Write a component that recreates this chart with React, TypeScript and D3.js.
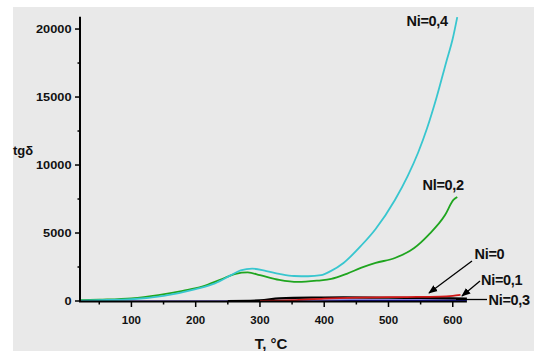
import React from "react";
import * as d3 from "d3";

const xTicks = [100, 200, 300, 400, 500, 600];
const xMinor = [50, 150, 250, 350, 450, 550];
const yTicks = [0, 5000, 10000, 15000, 20000];
const yMinor = [2500, 7500, 12500, 17500];

const tNi04 = [20, 50, 100, 150, 200, 230, 255, 270, 288, 310, 330, 353, 375, 395, 410, 430, 458, 480, 510, 530, 546, 560, 575, 590, 600, 607];
const vNi04 = [30, 60, 130, 380, 880, 1300, 1900, 2250, 2380, 2200, 2000, 1840, 1820, 1900, 2200, 2800, 4100, 5300, 7430, 9200, 10900, 12700, 15000, 17600, 19300, 20880];

const tNi02 = [20, 50, 100, 142, 180, 210, 240, 262, 281, 300, 330, 359, 390, 411, 435, 458, 480, 510, 540, 562, 588, 601, 607];
const vNi02 = [60, 100, 200, 440, 750, 1050, 1600, 2000, 2100, 1900, 1550, 1400, 1500, 1620, 2000, 2450, 2800, 3160, 3900, 4850, 6320, 7430, 7650];

const tNi0 = [300, 350, 400, 450, 500, 550, 580, 600, 612];
const vNi0 = [0, 60, 180, 250, 280, 300, 320, 380, 450];

const tNi01 = [250, 300, 330, 380, 430, 500, 550, 600, 622];
const vNi01 = [0, 40, 200, 250, 260, 240, 220, 200, 180];

const tNi03 = [20, 100, 200, 300, 340, 400, 500, 600, 622];
const vNi03 = [10, 10, 10, 15, 40, 50, 50, 60, 60];

const W = 534;
const H = 351;

export default function App() {
  const x = d3.scaleLinear().domain([20, 622]).range([80, 466.9]);
  const y = d3.scaleLinear().domain([0, 20900]).range([301, 16.8]);

  const mk = (ts: number[], vs: number[]) =>
    d3
      .line<number>()
      .x((_, i) => x(ts[i]))
      .y((v) => y(v))
      .curve(d3.curveMonotoneX)(vs) as string;

  const font = "'Liberation Sans', Arial, sans-serif";

  return (
    <svg
      width={W}
      height={H}
      style={{ position: "absolute", left: 0, top: 0 }}
      fontFamily={font}
    >
      <rect x={0} y={0} width={W} height={H} fill="#ffffff" />
      <rect x={13} y={7} width={W - 13} height={H - 7} fill="#e9e9e9" />

      <defs>
        <linearGradient id="g03" gradientUnits="userSpaceOnUse" x1={80} y1={0} x2={467} y2={0}>
          <stop offset="0" stopColor="#a898e8" />
          <stop offset="0.6" stopColor="#8a7ae0" />
          <stop offset="0.7" stopColor="#2020d0" />
          <stop offset="1" stopColor="#1a1ad0" />
        </linearGradient>
        <marker id="arr" viewBox="0 0 10 10" refX={9} refY={5} markerWidth={7} markerHeight={7} orient="auto">
          <path d="M0,1 L10,5 L0,9 z" fill="#000" />
        </marker>
      </defs>

      {/* data */}
      <path d={mk(tNi03, vNi03)} fill="none" stroke="url(#g03)" strokeWidth={1.6} />
      <path d={mk(tNi01, vNi01)} fill="none" stroke="#000" strokeWidth={2.2} />
      <path d={mk(tNi0, vNi0)} fill="none" stroke="#d01818" strokeWidth={1.8} />
      <path d={mk(tNi02, vNi02)} fill="none" stroke="#1fa51f" strokeWidth={1.8} />
      <path d={mk(tNi04, vNi04)} fill="none" stroke="#38c6cf" strokeWidth={1.8} />

      {/* axes */}
      <line x1={80} y1={y(20900)} x2={80} y2={302} stroke="#000" strokeWidth={2} />
      <line x1={79} y1={301.5} x2={466.9} y2={301.5} stroke="#000" strokeWidth={2} />
      {yTicks.map((v) => (
        <g key={"yt" + v}>
          <line x1={75} x2={80} y1={y(v)} y2={y(v)} stroke="#000" strokeWidth={1.5} />
          <text
            x={71.5}
            y={y(v) + 4.2}
            textAnchor="end"
            fontSize={11.5}
            fontWeight="bold"
            textLength={String(v).length * 7.1}
            lengthAdjust="spacingAndGlyphs"
            fill="#111"
          >
            {v}
          </text>
        </g>
      ))}
      {yMinor.map((v) => (
        <line key={"ym" + v} x1={77.5} x2={80} y1={y(v)} y2={y(v)} stroke="#000" strokeWidth={1.5} />
      ))}
      {xTicks.map((t) => (
        <g key={"xt" + t}>
          <line x1={x(t)} x2={x(t)} y1={301} y2={307} stroke="#000" strokeWidth={1.5} />
          <text x={x(t)} y={324} textAnchor="middle" fontSize={11.5} fontWeight="bold" fill="#111">
            {t}
          </text>
        </g>
      ))}
      {xMinor.map((t) => (
        <line key={"xm" + t} x1={x(t)} x2={x(t)} y1={301} y2={304.5} stroke="#000" strokeWidth={1.5} />
      ))}

      <text x={13} y={155} fontSize={13} fontWeight="bold" fill="#111">
        tgδ
      </text>
      <text x={271} y={349} textAnchor="middle" fontSize={15} fontWeight="bold" fill="#111">
        T, °C
      </text>

      {/* annotations */}
      <text x={406.5} y={26} fontSize={14.5} fontWeight="bold" fill="#111" letterSpacing={-0.3}>
        Ni=0,4
      </text>
      <text x={422.5} y={190} fontSize={14.5} fontWeight="bold" fill="#111" letterSpacing={-0.3}>
        Nl=0,2
      </text>
      <text x={474.5} y={259} fontSize={14.5} fontWeight="bold" fill="#111" letterSpacing={-0.3}>
        Ni=0
      </text>
      <text x={481} y={285} fontSize={14.5} fontWeight="bold" fill="#111" letterSpacing={-0.3}>
        Ni=0,1
      </text>
      <text x={488.5} y={305} fontSize={14.5} fontWeight="bold" fill="#111" letterSpacing={-0.3}>
        Ni=0,3
      </text>
      <line x1={472} y1={261} x2={429} y2={293} stroke="#000" strokeWidth={1.3} markerEnd="url(#arr)" />
      <line x1={480} y1={281} x2={462} y2={296} stroke="#000" strokeWidth={1.3} markerEnd="url(#arr)" />
      <line x1={487} y1={299.5} x2={456} y2={299.5} stroke="#000" strokeWidth={1.3} />
    </svg>
  );
}
